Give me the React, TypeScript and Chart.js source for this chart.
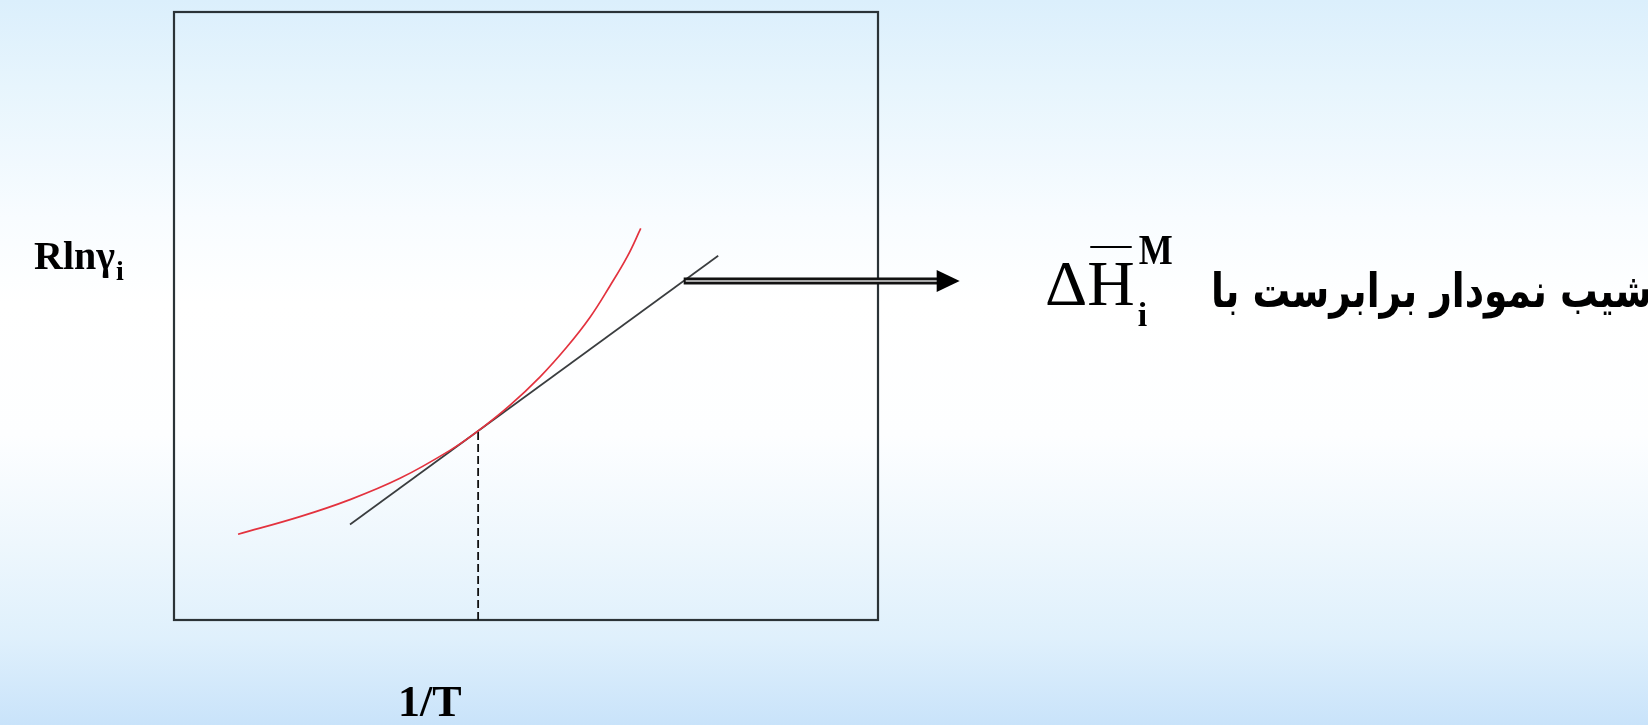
import React, { useEffect, useRef } from "react";
import { Chart, registerables } from "chart.js";

Chart.register(...registerables);

const W = 1648;
const H = 725;

// R ln γi as a function of 1/T (red curve)
const curveX = [0.91, 1.79, 2.5, 3.21, 3.92, 4.32, 4.77, 5.2, 5.58, 5.91, 6.19, 6.44, 6.63];
const curveY = [1.41, 1.7, 1.98, 2.33, 2.79, 3.11, 3.53, 4.0, 4.49, 4.98, 5.49, 5.98, 6.44];

// tangent line at the chosen point
const tangentX = [2.5, 7.73];
const tangentY = [1.57, 5.99];

// point of tangency, projected down to the 1/T axis
const touchX = 4.32;
const touchY = 3.11;

// arrow leaving the tangent line towards the slope statement
const arrowFromX = 7.24;
const arrowToX = 11.16;

const axisMin = 0;
const axisMax = 10;

const xTitle = "1/T";
const yTitle = "Rlnγ";
const yTitleSub = "i";
const slopeSymbol = "ΔH";
const slopeSup = "M";
const slopeSub = "i";
const slopeText = "شیب نمودار برابرست با";

const tangentAt = (x: number) =>
  tangentY[0] + ((x - tangentX[0]) * (tangentY[1] - tangentY[0])) / (tangentX[1] - tangentX[0]);

const backdrop = {
  id: "backdrop",
  beforeDraw(chart: any) {
    const { ctx, width, height } = chart;
    const g = ctx.createLinearGradient(0, 0, 0, height);
    g.addColorStop(0, "#dbeffc");
    g.addColorStop(0.12, "#e7f5fd");
    g.addColorStop(0.3, "#f8fcff");
    g.addColorStop(0.42, "#ffffff");
    g.addColorStop(0.6, "#fdfeff");
    g.addColorStop(0.75, "#eef7fd");
    g.addColorStop(0.88, "#dff0fc");
    g.addColorStop(1, "#c9e3fa");
    ctx.save();
    ctx.fillStyle = g;
    ctx.fillRect(0, 0, width, height);
    ctx.restore();
  },
};

const frame = {
  id: "frame",
  beforeDatasetsDraw(chart: any) {
    const { ctx, chartArea } = chart;
    ctx.save();
    ctx.strokeStyle = "#2b3337";
    ctx.lineWidth = 2.2;
    ctx.strokeRect(chartArea.left, chartArea.top, chartArea.right - chartArea.left, chartArea.bottom - chartArea.top);
    ctx.restore();
  },
};

const annotations = {
  id: "annotations",
  afterDraw(chart: any) {
    const { ctx } = chart;
    const xs = chart.scales.x;
    const ys = chart.scales.y;

    // double-shafted arrow
    const x0 = xs.getPixelForValue(arrowFromX);
    const y0 = ys.getPixelForValue(tangentAt(arrowFromX));
    const x1 = xs.getPixelForValue(arrowToX);
    const head = 23;
    ctx.save();
    ctx.fillStyle = "#111";
    ctx.fillRect(x0, y0 - 3.5, x1 - head - x0 + 1, 7);
    ctx.fillStyle = "#a8a8a8";
    ctx.fillRect(x0 + 2, y0 - 1, x1 - head - x0 - 1, 2);
    ctx.fillStyle = "#000";
    ctx.beginPath();
    ctx.moveTo(x1 - head, y0 - 11);
    ctx.lineTo(x1, y0);
    ctx.lineTo(x1 - head, y0 + 11);
    ctx.closePath();
    ctx.fill();

    ctx.fillStyle = "#000";
    ctx.textBaseline = "alphabetic";
    ctx.textAlign = "left";
    ctx.direction = "ltr";

    // y title
    ctx.font = "bold 40px 'Liberation Serif'";
    ctx.fillText(yTitle, 34, 269);
    const yw = ctx.measureText(yTitle).width;
    ctx.font = "bold 28px 'Liberation Serif'";
    ctx.fillText(yTitleSub, 34 + yw + 1, 280);

    // x title
    ctx.font = "bold 44px 'Liberation Serif'";
    ctx.fillText(xTitle, 398, 716);

    // ΔH̄ with sub/superscript
    const sx = 1045;
    const base = 305;
    ctx.save();
    ctx.translate(sx, base);
    ctx.scale(1.06, 1.02);
    ctx.font = "62px 'Liberation Serif'";
    ctx.fillText(slopeSymbol, 0, 0);
    const dw = ctx.measureText("Δ").width * 1.06;
    const sw = ctx.measureText(slopeSymbol).width * 1.06;
    ctx.restore();
    ctx.fillRect(sx + dw + 3, 246, sw - dw - 6, 2);

    ctx.save();
    ctx.translate(sx + sw + 4, 264);
    ctx.scale(0.9, 1.05);
    ctx.font = "bold 40px 'Liberation Serif'";
    ctx.fillText(slopeSup, 0, 0);
    ctx.restore();

    ctx.font = "bold 34px 'Liberation Serif'";
    ctx.fillText(slopeSub, sx + sw + 3, 326);

    // Persian statement, right-to-left
    ctx.direction = "rtl";
    ctx.textAlign = "right";
    const squeeze = 0.8;
    let size = 52;
    ctx.font = `bold ${size}px 'DejaVu Sans'`;
    const tw = ctx.measureText(slopeText).width;
    size = (size * (441 / squeeze)) / tw;
    ctx.font = `bold ${size}px 'DejaVu Sans'`;
    ctx.save();
    ctx.translate(1652, 307);
    ctx.scale(squeeze, 1);
    ctx.fillText(slopeText, 0, 0);
    ctx.restore();
    ctx.restore();
  },
};

export default function App() {
  const ref = useRef<HTMLCanvasElement | null>(null);

  useEffect(() => {
    if (!ref.current) return;
    const chart = new Chart(ref.current, {
      type: "scatter",
      data: {
        datasets: [
          {
            data: curveX.map((x, i) => ({ x, y: curveY[i] })),
            showLine: true,
            borderColor: "#e3323e",
            borderWidth: 1.7,
            pointRadius: 0,
            tension: 0.4,
          },
          {
            data: tangentX.map((x, i) => ({ x, y: tangentY[i] })),
            showLine: true,
            borderColor: "#3a3d3f",
            borderWidth: 1.7,
            pointRadius: 0,
          },
          {
            data: [
              { x: touchX, y: axisMin },
              { x: touchX, y: touchY },
            ],
            showLine: true,
            borderColor: "#111",
            borderWidth: 1.8,
            borderDash: [8, 4],
            pointRadius: 0,
          },
        ],
      },
      options: {
        responsive: false,
        animation: false,
        devicePixelRatio: 1,
        layout: { padding: { left: 174, top: 12, right: W - 878, bottom: H - 620 } },
        plugins: { legend: { display: false }, tooltip: { enabled: false } },
        scales: {
          x: { type: "linear", min: axisMin, max: axisMax, display: false },
          y: { type: "linear", min: axisMin, max: axisMax, display: false },
        },
      },
      plugins: [backdrop, frame, annotations],
    });
    return () => chart.destroy();
  }, []);

  return (
    <div style={{ position: "fixed", left: 0, top: 0, width: W, height: H }}>
      <canvas ref={ref} width={W} height={H} style={{ width: W, height: H, display: "block" }} />
    </div>
  );
}
